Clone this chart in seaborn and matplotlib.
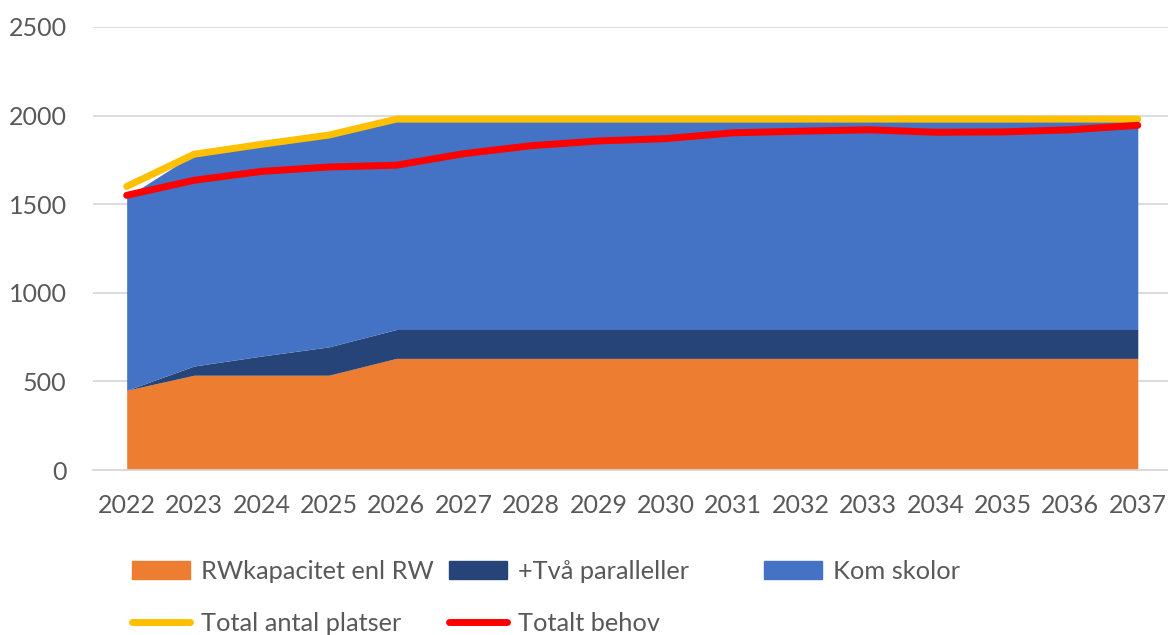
import matplotlib.pyplot as plt
import numpy as np
import pandas as pd
import seaborn as sns
from matplotlib.lines import Line2D
from matplotlib.patches import Patch

sns.set_theme(style="white")
plt.rcParams["font.family"] = ["Lato", "DejaVu Sans"]

years = [str(y) for y in range(2022, 2038)]
rw_kapacitet = [450, 535, 535, 535] + [630] * 12
tva_paralleller = [0, 52, 108, 160] + [163] * 12
kom_skolor = [1090, 1195, 1195, 1195] + [1187] * 12
total_platser = [1600, 1782, 1838, 1890] + [1980] * 12
totalt_behov = [1550, 1635, 1685, 1710, 1720, 1785, 1830, 1857,
                1870, 1903, 1912, 1920, 1906, 1908, 1920, 1945]

df = pd.DataFrame({
    "year": years,
    "RWkapacitet enl RW": rw_kapacitet,
    "+Två paralleller": tva_paralleller,
    "Kom skolor": kom_skolor,
    "Total antal platser": total_platser,
    "Totalt behov": totalt_behov,
})
df["pos"] = np.arange(len(df))

c_orange = "#ED7D31"
c_navy = "#264478"
c_blue = "#4472C4"
c_yellow = "#FFC000"
c_red = "#FF0000"
grid_col = "#D9D9D9"
text_col = "#595959"

fig = plt.figure(figsize=(11.68, 6.35), dpi=100)
ax = fig.add_axes([0.0796, 0.2598, 0.9234, 0.6977])

ax.stackplot(df["pos"], df["RWkapacitet enl RW"], df["+Två paralleller"], df["Kom skolor"],
             colors=[c_orange, c_navy, c_blue], linewidth=0)
sns.lineplot(data=df, x="pos", y="Total antal platser", color=c_yellow, linewidth=5,
             solid_capstyle="round", ax=ax)
sns.lineplot(data=df, x="pos", y="Totalt behov", color=c_red, linewidth=5,
             solid_capstyle="round", ax=ax)

ax.set_xlim(-0.5, len(df) - 0.5)
ax.set_ylim(0, 2500)
ax.set_yticks(range(0, 2501, 500))
ax.set_xticks(df["pos"])
ax.set_xticklabels(years)
ax.set_xticks(np.arange(-0.5, len(df), 1), minor=True)
ax.tick_params(axis="x", which="major", length=0, pad=17, labelsize=18, labelcolor=text_col)
ax.tick_params(axis="x", which="minor", length=8, width=1.2, color=grid_col, direction="out")
ax.tick_params(axis="y", length=0, pad=19, labelsize=18, labelcolor=text_col)
ax.set_xlabel("")
ax.set_ylabel("")
ax.yaxis.grid(True, color=grid_col, linewidth=1.3)
ax.set_axisbelow(True)
for side in ["left", "right", "top"]:
    ax.spines[side].set_visible(False)
ax.spines["bottom"].set_color(grid_col)
ax.spines["bottom"].set_linewidth(1.3)

columns = [
    ([Patch(color=c_orange), Line2D([], [], color=c_yellow, lw=5, solid_capstyle="round")],
     ["RWkapacitet enl RW", "Total antal platser"], 133),
    ([Patch(color=c_navy), Line2D([], [], color=c_red, lw=5, solid_capstyle="round")],
     ["+Två paralleller", "Totalt behov"], 450),
    ([Patch(color=c_blue)], ["Kom skolor"], 765),
]
for handles, labels, xpx in columns:
    leg = fig.legend(handles, labels, loc="upper left",
                     bbox_to_anchor=((xpx - 1) / 1168, 1 - 560 / 635),
                     frameon=False, fontsize=18.3, handlelength=2.3, handleheight=0.7,
                     handletextpad=0.4, labelspacing=1.15, borderaxespad=0, borderpad=0)
    for t in leg.get_texts():
        t.set_color(text_col)

fig.savefig("out.png", dpi=100)
